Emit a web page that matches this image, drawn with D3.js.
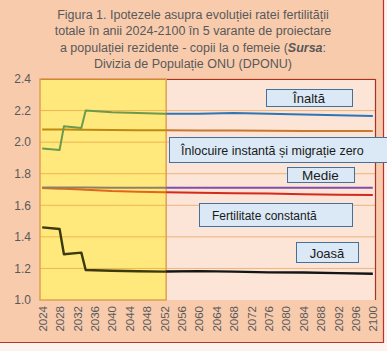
<!DOCTYPE html>
<html>
<head>
<meta charset="utf-8">
<script src="https://cdn.jsdelivr.net/npm/d3@7"></script>
<style>
  html, body { margin: 0; padding: 0; background: #fdf3ee; }
  svg { display: block; }
  text { font-family: "Liberation Sans Narrow", "Liberation Sans", "DejaVu Sans Condensed", sans-serif; }
</style>
</head>
<body>
<div id="chart"></div>
<script>
// Data
const years = [2024, 2028, 2029, 2033, 2034, 2040, 2046, 2052, 2060, 2068, 2076, 2084, 2092, 2100];
const inalta      = [1.96, 1.95, 2.10, 2.09, 2.20, 2.19, 2.185, 2.18, 2.18, 2.185, 2.18, 2.175, 2.17, 2.165];
const inlocuire   = [2.08, 2.08, 2.08, 2.078, 2.078, 2.077, 2.076, 2.075, 2.074, 2.073, 2.072, 2.071, 2.07, 2.07];
const medie       = [1.712, 1.712, 1.712, 1.712, 1.712, 1.711, 1.711, 1.711, 1.711, 1.711, 1.711, 1.711, 1.711, 1.711];
const fertilitate = [1.71, 1.705, 1.704, 1.70, 1.698, 1.69, 1.686, 1.683, 1.68, 1.677, 1.674, 1.67, 1.667, 1.665];
const joasa       = [1.46, 1.45, 1.29, 1.30, 1.19, 1.185, 1.182, 1.18, 1.183, 1.18, 1.175, 1.174, 1.17, 1.166];

const tickYears = [2024, 2028, 2032, 2036, 2040, 2044, 2048, 2052, 2056, 2060, 2064, 2068, 2072, 2076, 2080, 2084, 2088, 2092, 2096, 2100];
const yTicks = [1.0, 1.2, 1.4, 1.6, 1.8, 2.0, 2.2, 2.4];
const scenarioEnd = 2052;

const titleLines = [
    "Figura 1. Ipotezele asupra evoluției ratei fertilității",
    "totale în anii 2024-2100 în 5 varante de proiectare",
    null, // third line has bold italic part, built below
    "Divizia de Populație  ONU (DPONU)"
];

const series = [
    { name: "Joasă",       values: joasa,       color: "#141414", inYellow: "#3b3a0c", width: 2.4 },
    { name: "Fertilitate constantă", values: fertilitate, color: "#d42a1e", inYellow: "#e2661a", width: 2 },
    { name: "Medie",       values: medie,       color: "#7f4fad", inYellow: "#8e8068", width: 2 },
    { name: "Înlocuire",   values: inlocuire,   color: "#c8782f", inYellow: "#be8a12", width: 2 },
    { name: "Înaltă",      values: inalta,      color: "#2e75b6", inYellow: "#6c9a4c", width: 2 }
];

const W = 387, H = 351;
const plot = { left: 40, right: 375, top: 79, bottom: 300 };

const svg = d3.select("#chart").append("svg")
    .attr("width", W)
    .attr("height", H);

// outer chart frame
svg.append("rect")
    .attr("x", 0).attr("y", 0)
    .attr("width", W).attr("height", H)
    .attr("fill", "#fdf3ee");
svg.append("rect")
    .attr("x", 0).attr("y", 0)
    .attr("width", 383.5).attr("height", 342.5)
    .attr("fill", "#f8cbad");
svg.append("path")
    .attr("d", "M0,342.5 H383.5 V0")
    .attr("fill", "none")
    .attr("stroke", "#b8312a")
    .attr("stroke-width", 1.2);

// Title
const title = svg.append("g")
    .attr("fill", "#595959")
    .attr("font-size", 12.5)
    .attr("text-anchor", "middle");
const titleY = [19, 35, 51.5, 67.5];
titleLines.forEach((t, i) => {
    if (t === null) return;
    title.append("text").attr("x", 193).attr("y", titleY[i]).text(t);
});
const line3 = title.append("text").attr("x", 193).attr("y", titleY[2]);
line3.append("tspan").text("a populației  rezidente - copii la o femeie (");
line3.append("tspan").attr("font-weight", "bold").attr("font-style", "italic").text("Sursa");
line3.append("tspan").text(":");

// Scales
const x = d3.scaleLinear()
    .domain([2023.5, 2100.5])
    .range([plot.left, plot.right]);
const y = d3.scaleLinear()
    .domain([1.0, 2.4])
    .range([plot.bottom, plot.top]);

// plot background
svg.append("rect")
    .attr("x", plot.left).attr("y", plot.top)
    .attr("width", plot.right - plot.left)
    .attr("height", plot.bottom - plot.top)
    .attr("fill", "#fce4d6");

// yellow scenario area
const xYellowEnd = x(scenarioEnd + 0.5);
svg.append("rect")
    .attr("x", plot.left).attr("y", plot.top)
    .attr("width", xYellowEnd - plot.left)
    .attr("height", plot.bottom - plot.top)
    .attr("fill", "#ffe97c");

// gridlines
svg.append("g")
    .selectAll("line")
    .data(yTicks.slice(1))
    .join("line")
    .attr("x1", plot.left).attr("x2", plot.right)
    .attr("y1", d => y(d)).attr("y2", d => y(d))
    .attr("stroke", "rgba(222,140,50,0.55)")
    .attr("stroke-width", 1);

// plot border (top and right)
svg.append("path")
    .attr("d", `M${plot.left},${plot.top + 0.5} H${plot.right + 0.5} V${plot.bottom}`)
    .attr("fill", "none")
    .attr("stroke", "#a8322a")
    .attr("stroke-width", 1.2);

// yellow area border
svg.append("rect")
    .attr("x", plot.left).attr("y", plot.top)
    .attr("width", xYellowEnd - plot.left)
    .attr("height", plot.bottom - plot.top)
    .attr("fill", "none")
    .attr("stroke", "#e0a050")
    .attr("stroke-width", 1.5);

// clip paths for the two colour regions
const defs = svg.append("defs");
defs.append("clipPath").attr("id", "clipYellow")
    .append("rect")
    .attr("x", plot.left).attr("y", plot.top - 5)
    .attr("width", xYellowEnd - plot.left).attr("height", plot.bottom - plot.top + 10);
defs.append("clipPath").attr("id", "clipPink")
    .append("rect")
    .attr("x", xYellowEnd).attr("y", plot.top - 5)
    .attr("width", plot.right - xYellowEnd).attr("height", plot.bottom - plot.top + 10);

const line = d3.line()
    .x((d, i) => x(years[i]))
    .y(d => y(d));

series.forEach(s => {
    svg.append("path")
        .attr("d", line(s.values))
        .attr("fill", "none")
        .attr("stroke", s.inYellow)
        .attr("stroke-width", s.width)
        .attr("stroke-linejoin", "round")
        .attr("clip-path", "url(#clipYellow)");
    svg.append("path")
        .attr("d", line(s.values))
        .attr("fill", "none")
        .attr("stroke", s.color)
        .attr("stroke-width", s.width)
        .attr("stroke-linejoin", "round")
        .attr("clip-path", "url(#clipPink)");
});

// Axes
const yAxis = svg.append("g")
    .attr("transform", `translate(${plot.left},0)`)
    .call(d3.axisLeft(y).tickValues(yTicks).tickFormat(d3.format(".1f")).tickSize(0).tickPadding(9));
yAxis.select(".domain").remove();
yAxis.selectAll("text")
    .attr("fill", "#595959")
    .attr("font-size", 12)
    .style("font-family", "'Liberation Sans Narrow', 'Liberation Sans', sans-serif");

const xAxis = svg.append("g")
    .attr("transform", `translate(0,${plot.bottom})`)
    .call(d3.axisBottom(x).tickValues(tickYears).tickFormat(d3.format("d")).tickSize(0));
xAxis.select(".domain").remove();
xAxis.selectAll("text")
    .attr("fill", "#595959")
    .attr("font-size", 11.5)
    .attr("transform", "rotate(-90)")
    .attr("text-anchor", "end")
    .attr("x", -6)
    .attr("y", 0)
    .attr("dy", "0.35em")
    .style("font-family", "'Liberation Sans Narrow', 'Liberation Sans', sans-serif");

// Legend boxes
const boxes = [
    { text: "Înaltă", x: 266, y: 89, w: 86, h: 17, size: 13 },
    { text: "Înlocuire instantă și migrație zero", x: 169, y: 137, w: 222, h: 25, size: 12.5, anchor: "start", tx: 181 },
    { text: "Medie", x: 287, y: 167, w: 67, h: 15, size: 13.5 },
    { text: "Fertilitate constantă", x: 199, y: 203, w: 153, h: 23, size: 12, anchor: "start", tx: 212 },
    { text: "Joasă", x: 296, y: 242, w: 62, h: 20, size: 13 }
];
const box = svg.append("g").selectAll("g")
    .data(boxes)
    .join("g");
box.append("rect")
    .attr("x", d => d.x + 0.5).attr("y", d => d.y + 0.5)
    .attr("width", d => d.w).attr("height", d => d.h)
    .attr("fill", "#dbe8f5")
    .attr("stroke", "#41719c")
    .attr("stroke-width", 1);
box.append("text")
    .attr("x", d => d.anchor ? d.tx : d.x + d.w / 2)
    .attr("y", d => d.y + d.h / 2 + 1)
    .attr("dy", "0.35em")
    .attr("text-anchor", d => d.anchor || "middle")
    .attr("font-size", d => d.size)
    .attr("fill", "#1a1a1a")
    .text(d => d.text);
</script>
</body>
</html>
